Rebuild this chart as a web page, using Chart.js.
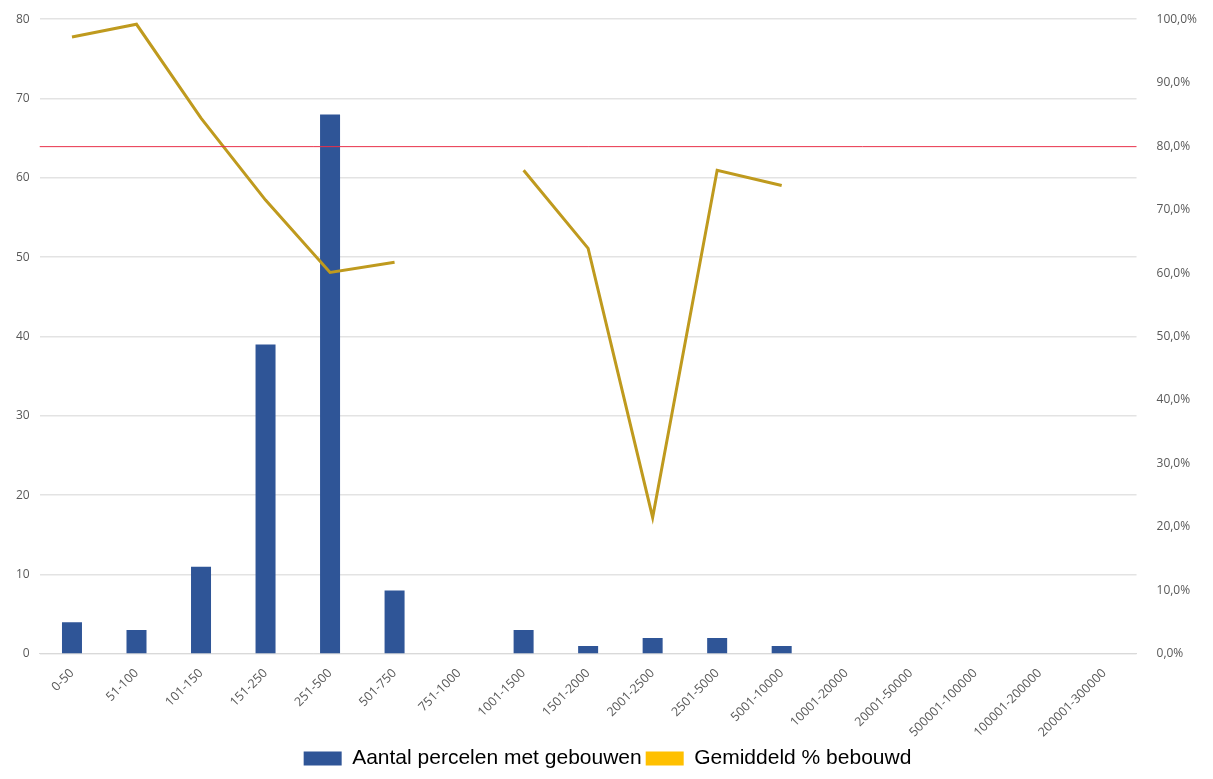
<!DOCTYPE html>
<html>
<head>
<meta charset="utf-8">
<script src="https://cdn.jsdelivr.net/npm/chart.js@4/dist/chart.umd.min.js"></script>
<style>
  html, body { margin: 0; padding: 0; background: #fff; }
  #wrap { width: 1213px; height: 779px; }
</style>
</head>
<body>
<div id="wrap"><canvas id="chart" width="1213" height="779"></canvas></div>
<script>
const categories = ["0-50", "51-100", "101-150", "151-250", "251-500", "501-750", "751-1000",
  "1001-1500", "1501-2000", "2001-2500", "2501-5000", "5001-10000", "10001-20000",
  "20001-50000", "500001-100000", "100001-200000", "200001-300000"];
const aantalPercelen = [4, 3, 11, 39, 68, 8, 0, 3, 1, 2, 2, 1, 0, 0, 0, 0, 0];
const gemiddeldBebouwd = [97.2, 99.2, 84.4, 71.5, 60.1, 61.7, null, 76.2, 63.9, 21.5, 76.2, 73.8,
  null, null, null, null, null];
const norm = 80;

const tickColor = "#595959";

// horizontale referentielijn op de rechter as
const normLine = {
  id: "normLine",
  afterDatasetsDraw(c) {
    const y = c.scales.y1.getPixelForValue(norm);
    const ctx = c.ctx;
    ctx.save();
    ctx.strokeStyle = "#e8304a";
    ctx.lineWidth = 1;
    ctx.beginPath();
    ctx.moveTo(c.chartArea.left, y + 0.5);
    ctx.lineTo(c.chartArea.right, y + 0.5);
    ctx.stroke();
    ctx.restore();
  }
};

new Chart(document.getElementById("chart"), {
  data: {
    labels: categories,
    datasets: [
      {
        type: "line",
        label: "Gemiddeld % bebouwd",
        data: gemiddeldBebouwd,
        yAxisID: "y1",
        borderColor: "#bf9a1e",
        backgroundColor: "#ffc000",
        borderWidth: 3,
        pointRadius: 0,
        spanGaps: false,
        order: 1
      },
      {
        type: "bar",
        label: "Aantal percelen met gebouwen",
        data: aantalPercelen,
        yAxisID: "y",
        backgroundColor: "#2f5597",
        categoryPercentage: 1,
        barPercentage: 0.31,
        order: 2
      }
    ]
  },
  options: {
    responsive: false,
    animation: false,
    layout: { padding: { top: 12, left: 6, right: 4, bottom: 0 } },
    plugins: {
      legend: {
        position: "bottom",
        labels: {
          color: "#000",
          font: { family: "Liberation Sans", size: 21 },
          boxWidth: 38,
          boxHeight: 14,
          padding: 4,
          generateLabels(c) {
            return [1, 0].map(i => {
              const ds = c.data.datasets[i];
              return {
                text: ds.label,
                fillStyle: ds.backgroundColor,
                strokeStyle: ds.backgroundColor,
                lineWidth: 0,
                datasetIndex: i
              };
            });
          }
        }
      },
      tooltip: { enabled: false }
    },
    scales: {
      x: {
        grid: { display: false },
        border: { color: "#d9d9d9" },
        ticks: { color: tickColor, font: { family: "Open Sans", size: 12.5 }, minRotation: 45, maxRotation: 45, padding: 4 }
      },
      y: {
        position: "left",
        min: 0,
        max: 80,
        ticks: { stepSize: 10, color: tickColor, font: { family: "Open Sans", size: 12 }, padding: 10 },
        grid: { color: "#e3e3e3", lineWidth: 1.5, drawTicks: false },
        border: { display: false }
      },
      y1: {
        position: "right",
        min: 0,
        max: 100,
        ticks: {
          stepSize: 10,
          color: tickColor,
          font: { family: "Open Sans", size: 12 },
          padding: 12,
          callback: v => v.toFixed(1).replace(".", ",") + "%"
        },
        grid: { display: false },
        border: { display: false }
      }
    }
  },
  plugins: [normLine]
});
</script>
</body>
</html>
